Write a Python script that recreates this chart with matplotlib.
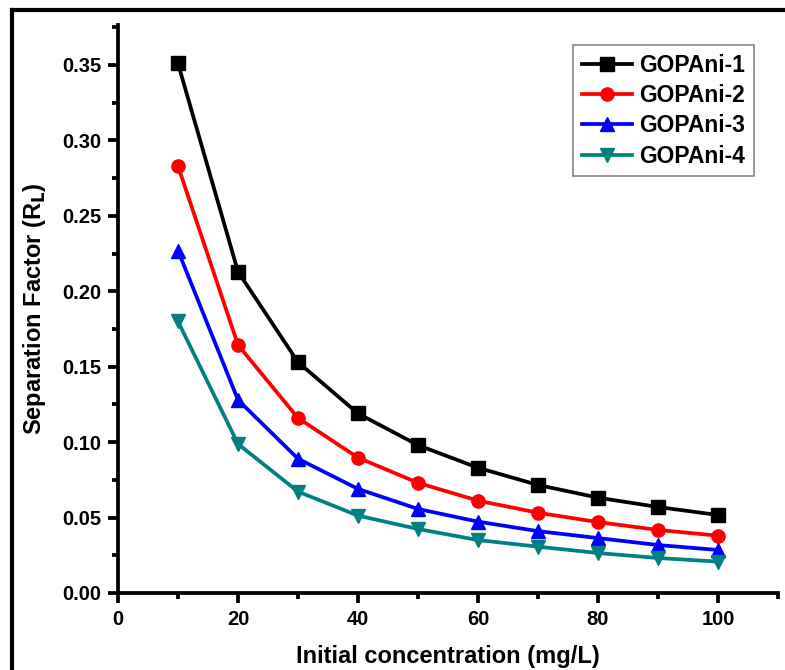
import matplotlib
matplotlib.use("Agg")
import matplotlib.pyplot as plt
from matplotlib.lines import Line2D
from matplotlib.ticker import MultipleLocator

plt.rcParams['font.family'] = ['Liberation Sans', 'DejaVu Sans']
plt.rcParams['font.weight'] = 'bold'

conc = [10, 20, 30, 40, 50, 60, 70, 80, 90, 100]
gopani1 = [0.351, 0.213, 0.153, 0.119, 0.098, 0.083, 0.0716, 0.0632, 0.057, 0.0517]
gopani2 = [0.283, 0.1644, 0.116, 0.0897, 0.073, 0.0612, 0.0532, 0.047, 0.0418, 0.038]
gopani3 = [0.227, 0.128, 0.089, 0.069, 0.0557, 0.0473, 0.041, 0.0364, 0.0318, 0.0285]
gopani4 = [0.180, 0.0988, 0.0672, 0.0513, 0.0424, 0.0351, 0.0307, 0.0265, 0.0232, 0.0208]
labels = ['GOPAni-1', 'GOPAni-2', 'GOPAni-3', 'GOPAni-4']
colors = ['#000000', '#ff0000', '#0000ff', '#008080']
markers = ['s', 'o', '^', 'v']

fig = plt.figure(figsize=(7.85, 6.70), dpi=100)
ax = fig.add_axes([118/785, 1-593/670, (778-118)/785, (593-25)/670])

for ys, lab, c, m in zip([gopani1, gopani2, gopani3, gopani4], labels, colors, markers):
    ax.plot(conc, ys, color=c, marker=m, markersize=9.5, linewidth=2.7, label=lab)

ax.set_xlim(0, 110)
ax.set_ylim(0, 0.3765)
ax.xaxis.set_minor_locator(MultipleLocator(10))
ax.yaxis.set_major_locator(MultipleLocator(0.05))
ax.yaxis.set_minor_locator(MultipleLocator(0.025))
ax.set_xticks([0, 20, 40, 60, 80, 100])
ax.set_xticklabels(['0', '20', '40', '60', '80', '100'])
ax.yaxis.set_major_formatter(matplotlib.ticker.FormatStrFormatter('%.2f'))

for s in ['top', 'right']:
    ax.spines[s].set_visible(False)
for s in ['left', 'bottom']:
    ax.spines[s].set_linewidth(2.7)
ax.tick_params(which='major', direction='out', length=7, width=2.7, labelsize=14.5, pad=5)
ax.tick_params(which='minor', direction='out', length=4, width=2.7)
for t in ax.get_xticklabels() + ax.get_yticklabels():
    t.set_fontweight('bold')

ax.set_xlabel('Initial concentration (mg/L)', fontsize=17, fontweight='bold', labelpad=12)
ax.set_ylabel('Separation Factor (R$_\\mathbf{L}$)', fontsize=17, fontweight='bold', labelpad=10)

leg = ax.legend(loc='upper right', bbox_to_anchor=(754/785, 1-45/670), bbox_transform=fig.transFigure,
                prop={'size': 16.5, 'weight': 'bold'}, frameon=True, fancybox=False,
                handlelength=2.2, borderpad=0.38, labelspacing=0.32, handletextpad=0.3,
                borderaxespad=0)
leg.get_frame().set_edgecolor('#666666')
leg.get_frame().set_linewidth(1.2)

fig.add_artist(Line2D([12/785, 12/785], [0, 1-10/670], transform=fig.transFigure, color='black', linewidth=3))
fig.add_artist(Line2D([12/785, 1], [1-10/670, 1-10/670], transform=fig.transFigure, color='black', linewidth=3))

fig.savefig('out.png', dpi=100)
